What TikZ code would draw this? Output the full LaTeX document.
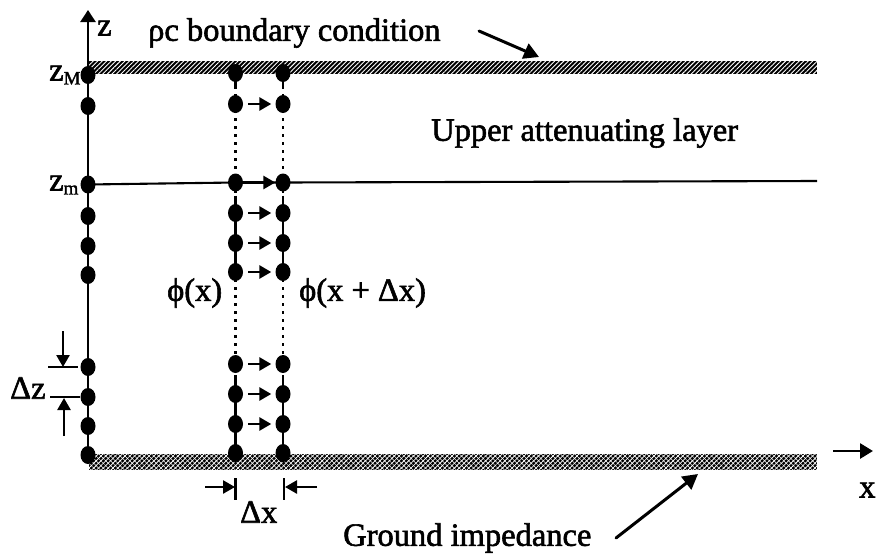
\documentclass[tikz,border=0pt]{standalone}
\usepackage{fontspec}
\setmainfont[RawFeature={embolden=1.8}]{Liberation Serif}
\usetikzlibrary{arrows.meta,patterns.meta,shapes.geometric}
\tikzset{
  dot/.style={ellipse,fill=black,inner sep=0pt,minimum width=15pt,minimum height=18pt},
  wire/.style={line width=2.1pt,black},
  flow/.style={line width=2.8pt,-{Triangle[length=12pt,width=13pt]}},
  pointer/.style={line width=3pt,line cap=round,-{Triangle[length=15pt,width=16pt]}},
  dim/.style={line width=2.5pt,-{Triangle[length=12pt,width=13pt]}},
  tick/.style={line width=2.2pt},
  dots/.style={line width=2.8pt,dash pattern=on 2.8pt off 5.2pt},
  lbl/.style={inner sep=0pt,font=\fontsize{32.5}{34}\selectfont},
  hatchbar/.style={fill=black,postaction={pattern={Lines[angle=45,distance=3.2pt,line width=0.9pt]},pattern color=white}},
  crossbar/.style={fill=black,postaction={pattern={Lines[angle=45,distance=3.4pt,line width=0.8pt]},pattern color=white},postaction={pattern={Lines[angle=-45,distance=3.4pt,line width=0.5pt]},pattern color=white}}
}
\begin{document}
\begin{tikzpicture}[x=1pt,y=-1pt]
\useasboundingbox (0,0) rectangle (877,557);
% bars
\path[hatchbar] (89,60.5) rectangle (817,74);
\path[crossbar] (89,454) rectangle (817,470);
% free ends
\coordinate (ztop) at (88,10);
\coordinate (mright) at (817,181);
% left column dots
\foreach \n/\y in {1/75,2/106,3/184.5,4/216,5/246,6/275,7/367,8/397,9/426,10/455}
  \node[dot] (L\n) at (88,\y) {};
% lattice columns
\foreach \n/\y in {1/73,2/104,3/182.5,4/213,5/243,6/272,7/364,8/394,9/424,10/453}{
  \node[dot] (A\n) at (235.5,\y) {};
  \node[dot] (B\n) at (283,\y) {};
}
% z axis and column wires
\draw[line width=2.6pt,-{Triangle[length=12pt,width=15pt]}] (L1.center) -- (ztop);
\draw[wire] (L1.center) -- (L10.center);
\draw[wire] (L3.center) -- (A3.center) -- (B3.center) -- (mright);
\foreach \c in {A,B}{
  \coordinate (\c u1) at ([yshift=16pt]\c2.center);
  \coordinate (\c u2) at ([yshift=-13pt]\c3.center);
  \coordinate (\c u3) at ([yshift=16pt]\c6.center);
  \coordinate (\c u4) at ([yshift=-14pt]\c7.center);
  \draw[wire] (\c1.center) -- (\c u1);
  \draw[wire] (\c u2) -- (\c6.center) -- (\c u3);
  \draw[wire] (\c u4) -- (\c10.center);
  \draw[dots] ([yshift=26pt]\c2.center) -- ([yshift=-23pt]\c3.center);
  \draw[dots] ([yshift=25pt]\c6.center) -- ([yshift=-19pt]\c7.center);
}
% flow arrows
\foreach \n in {2,4,5,6,7,8,9}
  \draw[flow,shorten <=5pt,shorten >=4pt] (A\n) -- (B\n);
\draw[flow,shorten >=0pt] (A3) -- (B3);
% pointers
\coordinate (pa) at (479,31);
\coordinate (pb) at (539,57);
\draw[pointer] (pa) -- (pb);
\coordinate (ga) at (616,538);
\coordinate (gb) at (698,474);
\draw[pointer] (ga) -- (gb);
% x direction arrow
\coordinate (xa) at (833,451);
\coordinate (xb) at (873,451);
\draw[line width=2.8pt,-{Triangle[length=13pt,width=15pt]}] (xa) -- (xb);
% delta z
\coordinate (za) at (63,331);
\coordinate (zb) at (63,367);
\coordinate (zc) at (64,436);
\coordinate (zd) at (64,398);
\coordinate (t1a) at (48,367); \coordinate (t1b) at (78,367);
\coordinate (t2a) at (50,397); \coordinate (t2b) at (80,397);
\draw[dim] (za) -- (zb);
\draw[dim] (zc) -- (zd);
\draw[tick] (t1a) -- (t1b);
\draw[tick] (t2a) -- (t2b);
% delta x
\coordinate (da) at (205,487); \coordinate (db) at (235,487);
\coordinate (dc) at (317,487); \coordinate (dd) at (285,487);
\coordinate (t3a) at (235.5,478); \coordinate (t3b) at (235.5,500);
\coordinate (t4a) at (284,478); \coordinate (t4b) at (284,500);
\draw[dim] (da) -- (db);
\draw[dim] (dc) -- (dd);
\draw[tick] (t3a) -- (t3b);
\draw[tick] (t4a) -- (t4b);
% labels
\node[lbl,anchor=west] (tz) at (97,28) {z};
\node[lbl,anchor=west] (tbc) at (148,33) {ρc boundary condition};
\node[lbl,anchor=west] (tup) at (431,133) {Upper attenuating layer};
\node[lbl,anchor=west] (tzM) at (49,75) {z\raisebox{-4pt}{\fontsize{19}{20}\selectfont M}};
\node[lbl,anchor=west] (tzm) at (49,185) {z\raisebox{-4pt}{\fontsize{19}{20}\selectfont m}};
\node[lbl,anchor=west] (tpa) at (167,293) {ϕ(x)};
\node[lbl,anchor=west] (tpb) at (299,293) {ϕ(x + Δx)};
\node[lbl,anchor=west] (tdz) at (10,388) {Δz};
\node[lbl,anchor=west] (tdx) at (240,512) {Δx};
\node[lbl,anchor=west] (tx) at (859,490) {x};
\node[lbl,anchor=west] (tg) at (343,538) {Ground impedance};
\end{tikzpicture}
\end{document}
